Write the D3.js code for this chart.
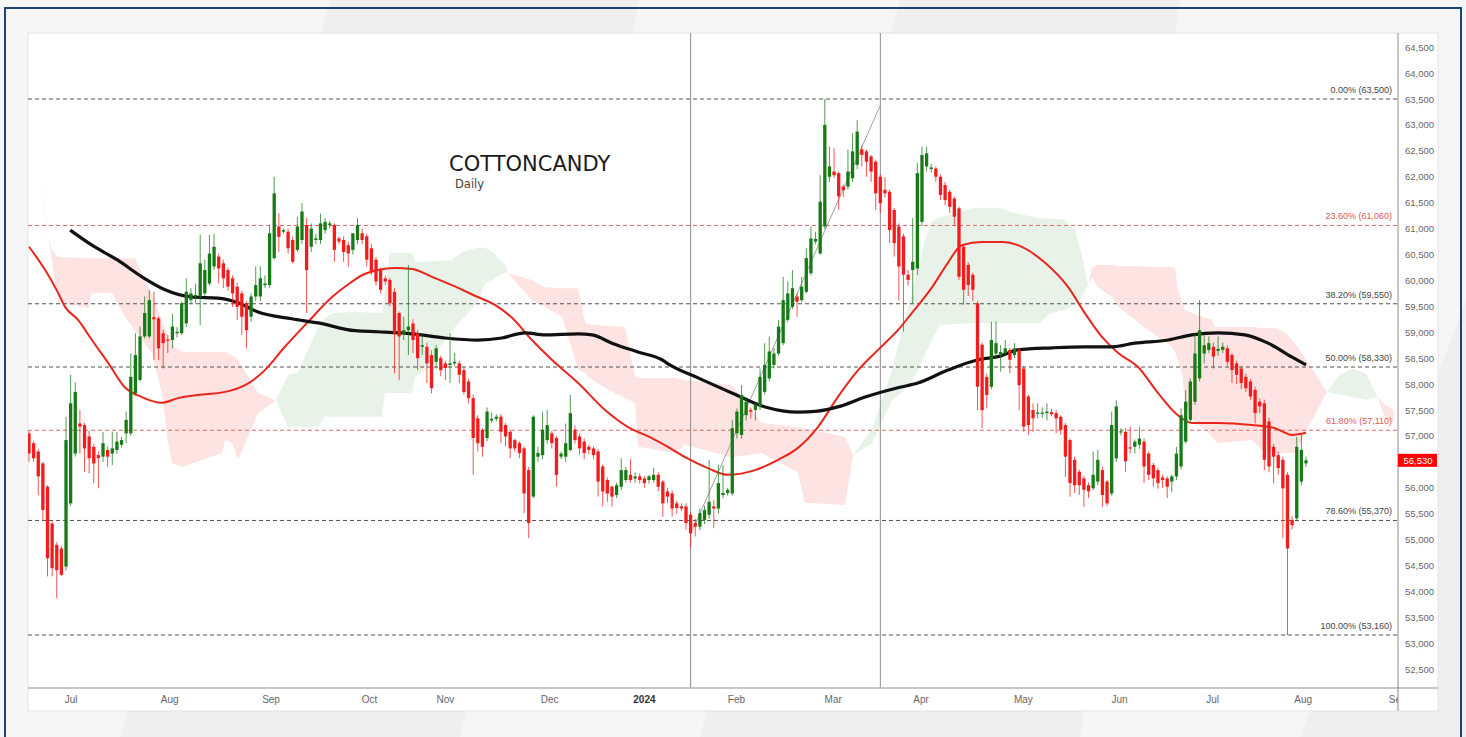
<!DOCTYPE html>
<html><head><meta charset="utf-8">
<script src="https://cdn.jsdelivr.net/npm/d3@7"></script>
<style>html,body{margin:0;padding:0;background:#efefef;overflow:hidden}</style>
</head><body><svg id="c" width="1466" height="737"></svg>
<script>
// ---------------- DATA ----------------
const opens=[57050,56860,56700,56470,56020,55310,54900,54830,54480,55700,
56660,57240,57210,56990,56790,56630,56600,56730,56660,56730,
56830,57050,57050,57820,58080,58920,58920,59290,59270,58980,
58860,58850,58980,58980,59170,59620,59690,59690,59750,59940,
60270,60460,60330,60200,60040,59880,59750,59560,59300,59690,
59690,59910,59910,60430,61040,60940,60940,60780,60590,60780,
61070,60650,60780,60780,60970,61070,61070,60810,60780,60680,
60590,60780,60910,60850,60620,60400,60200,60040,60010,59780,
59370,58950,59040,59170,58980,58720,58720,58560,58430,58500,
58400,58370,58400,58400,58270,58050,57730,57340,57120,56960,
57300,57330,57370,57210,57080,56920,56860,56760,56340,55830,
56600,56630,56920,57050,56960,56600,56600,56730,57120,56990,
56890,56790,56760,56700,56410,56150,56020,55860,56020,56150,
56250,56180,56220,56180,56150,56150,56250,56120,55930,55890,
55700,55640,55640,55480,55320,55250,55380,55480,55640,55600,
55860,55900,55890,57050,57020,57400,57500,57500,57570,57850,
58110,58370,58590,58790,59240,59490,59690,59620,59780,60140,
60750,60520,61040,62000,62100,62070,61810,61810,61970,62230,
62530,62490,62390,62290,62000,61750,61710,61360,61040,60850,
60110,60200,60230,61130,62200,62150,62160,62000,61840,61710,
61580,61390,60650,60300,60110,59560,58760,58140,57950,58590,
58550,58600,58660,58560,58660,58300,57760,57500,57440,57440,
57440,57460,57440,57370,57210,56920,56540,56310,56180,56050,
55990,56120,56340,56120,55890,56570,57080,57080,56780,56790,
56830,56890,56660,56440,56340,56200,56180,56120,56220,56410,
56890,57310,57660,58110,58590,58660,58720,58640,58660,58690,
58560,58400,58300,58140,58050,57890,57660,57630,57280,56790,
56630,56540,56250,55380,55410,56120,56470];
const highs=[57100,56900,56750,56500,56050,55350,54950,54880,57370,58180,
58030,57500,57250,57100,56850,56700,57080,56800,57080,57080,
56980,57470,58590,58980,59110,59690,59810,59780,59300,59050,
58950,59360,59100,59590,60040,59850,59940,60880,60400,60880,
60900,60520,60400,60250,60100,59950,59800,59600,59750,60270,
60270,60100,61070,62000,61300,61000,61000,60850,61230,61490,
61200,61100,60900,61290,61200,61150,61100,60850,60850,60750,
60700,61200,61000,60900,60700,60450,60250,60100,60050,59850,
59400,59300,60300,59250,59050,58950,58800,58650,58750,58550,
58450,58980,58600,58450,58320,58100,57800,57400,57150,57550,
57450,57420,57420,57250,57120,56950,56900,56800,56400,57400,
56790,57470,57500,57100,57000,56700,57240,57790,57200,57050,
56950,56830,56800,56750,56450,56200,56050,56100,56570,56400,
56550,56300,56280,56230,56250,56380,56300,56150,56000,55950,
55750,55700,55700,55520,55400,55600,55650,56540,55770,56440,
56440,56000,57310,57530,57980,57750,57550,57650,58300,58790,
58920,58700,59240,60070,59980,60200,59750,60070,60620,61040,
60940,62030,63500,62580,62550,62100,61850,62520,62840,63090,
62600,62530,62420,62330,62050,61990,61750,61400,61100,60900,
60200,61200,62260,62580,62580,62250,62200,62050,61900,61750,
61620,61420,60700,60350,60150,59600,58800,58200,59200,59210,
58750,58850,58700,58790,58700,58350,57800,57630,57630,57550,
57630,57520,57500,57400,57250,56950,56600,56350,56230,56100,
56700,56730,56400,56150,57470,57690,57150,57150,57180,56930,
57180,56950,56700,56480,56380,56250,56220,56250,56790,57530,
57880,58110,58980,59620,58950,58920,58800,58920,58800,58750,
58600,58450,58350,58200,58100,57950,57720,57700,57350,56850,
56700,56600,56300,55450,56980,57020,56600];
const lows=[56500,56500,55860,55380,54290,54290,53870,54300,54400,55650,
56600,56660,56310,56280,56090,55990,56500,56400,56440,56650,
56780,56860,57000,57780,58050,58880,58880,58460,58460,58300,
58600,58690,58900,58950,59100,59550,59560,59140,59700,59900,
60200,59940,59850,59800,59490,59240,58950,58690,59200,59600,
59600,59850,59850,60400,60550,60900,60520,60330,60550,60700,
59370,60550,60700,60700,60900,61000,60360,60700,60360,60260,
60500,60700,60700,60270,60100,59900,59750,59910,59500,58210,
58080,58850,58560,58600,58270,58560,58020,57820,58300,58150,
58080,58020,58350,58020,57800,57630,56250,56700,56600,56900,
57250,57280,56860,56800,56570,56700,56570,55510,55030,55800,
56500,56550,56850,56760,56020,56550,56500,56700,56850,56640,
56550,56650,56550,55830,55640,55730,55640,55800,55950,56100,
56100,56100,56080,56000,56080,56100,55930,55440,55700,55440,
55500,55550,55190,54830,55060,55180,55300,55400,55220,55500,
55800,55850,55850,56950,56950,57300,57340,57300,57500,57800,
58050,58300,58550,58750,59200,59450,59300,59580,59750,60100,
60700,60500,60990,61900,61980,61360,61610,61750,61900,62150,
62200,62000,61900,61360,61300,61600,60720,60460,59620,59010,
59900,59560,60100,61050,62100,62080,61900,61550,61450,61300,
61050,60010,59530,59700,59600,57500,57150,57530,57900,58500,
58240,58550,58210,58500,57500,57080,57020,57080,57340,57350,
57300,57380,57050,57020,56210,55830,55900,55860,55630,55800,
55950,56050,55630,55650,55850,56500,57010,56310,56660,56660,
56750,56090,56150,56020,55980,56000,55800,55920,56150,56350,
56850,57250,57600,58050,58400,58600,58300,58550,58600,58350,
58020,58000,57900,57850,57700,57240,57440,56340,56300,56090,
56250,55030,53160,55200,55350,56050,56400];
const closes=[56660,56570,56220,55570,54640,54450,54410,54320,56920,57630,
57850,57180,56760,56570,56470,56570,56860,56600,56760,56890,
56920,57310,58140,58560,58920,59370,59620,59250,58690,58790,
58840,59110,59010,59560,59780,59750,59720,60330,60200,60520,
60650,60230,60040,59880,59750,59490,59300,59040,59690,59910,
60040,59940,60910,61680,60840,60970,60620,60360,61040,61330,
60200,61000,60810,61100,61130,61100,60590,60750,60550,60520,
60910,61070,60780,60400,60170,59980,59820,59980,59560,58980,
58920,59040,59110,58850,58500,58750,58400,57920,58690,58270,
58310,58400,58430,58180,57850,57730,56960,56860,56790,57470,
57330,57370,57080,56990,56760,56760,56670,55890,55320,57370,
56670,57120,57210,56860,56250,56660,56860,57440,56920,56760,
56670,56730,56630,56120,55930,55890,55830,56050,56340,56340,
56150,56220,56150,56090,56220,56250,56020,55700,55830,55600,
55610,55600,55320,55120,55250,55510,55570,55730,55600,56090,
55900,55960,57150,57470,57790,57660,57470,57600,58140,58370,
58630,58590,59110,59620,59750,59850,59590,59880,60430,60810,
60800,61520,63000,62200,62030,61620,61740,62100,62490,62870,
62420,62290,62100,61680,61490,61680,60970,60720,60270,60110,
60010,60360,62070,62420,62450,62180,62000,61650,61550,61420,
61230,60070,59820,59910,59820,57950,57500,57790,58850,58790,
58620,58690,58470,58690,57980,57180,57210,57340,57450,57450,
57470,57420,57340,57120,56600,56090,56050,56050,55960,55930,
56250,56540,55860,55700,57210,57570,57090,56510,56760,56890,
56950,56410,56250,56180,56090,56150,56020,56220,56660,57400,
57660,58050,58590,59040,58750,58790,58530,58680,58720,58430,
58270,58180,58020,57920,57760,57440,57570,56540,56410,56600,
56380,55990,54830,55280,56790,56730,56530];

const monthIdx=[9,30.3,52.2,73.5,89.9,112.4,132.9,152.8,173.7,192.7,214.8,235.6,255.7,275.3,295.7];
const monthLbl=["Jul","Aug","Sep","Oct","Nov","Dec","2024","Feb","Mar","Apr","May","Jun","Jul","Aug","Sep"];
const priceTicks=d3.range(52500,64501,500);

const fibLevels=[63500,61060,59550,58330,57110,55370,53160];
const fibPct=["0.00%","23.60%","38.20%","50.00%","61.80%","78.60%","100.00%"];
const fibRed=[false,true,false,false,true,false,false];

const maFast=[[0,60650],[3.5,60200],[6.3,59760],[7.8,59490],[10.6,59240],[13.6,58850],[17.1,58410],[20.7,57940],[24.4,57750],[28.7,57640],[32.2,57730],[36.5,57790],[42.4,57850],[46.7,57980],[51,58270],[55.3,58720],[60.3,59200],[65.5,59680],[69.4,59950],[72,60100],[75.4,60200],[79.1,60240],[82.8,60220],[87.1,60070],[91.4,59910],[97,59680],[100.7,59530],[104.4,59280],[108.7,58850],[113,58470],[118.7,58020],[124.5,57500],[129.5,57170],[134.6,56960],[138.1,56790],[141.8,56590],[146.7,56380],[151.1,56250],[156.9,56340],[161.9,56540],[166.2,56770],[170.5,57170],[174.8,57750],[179.2,58270],[183.5,58660],[187.8,59040],[190.8,59370],[195.2,59870],[198.6,60340],[201.6,60680],[206,60740],[210.3,60740],[213.7,60680],[219.6,60340],[224.6,59870],[228.2,59370],[231.9,58910],[235.4,58600],[239.7,58330],[244,57830],[248.3,57400],[251.4,57250],[257,57250],[264.3,57210],[269.3,57150],[273,57020],[276,57060]];
const maSlow=[[8.9,60970],[13.6,60680],[19.2,60390],[24.4,60070],[29.4,59820],[35.2,59680],[40.8,59660],[45.2,59570],[49.5,59390],[56.8,59260],[62.5,59180],[70.5,59030],[75.4,59010],[82.8,58970],[89.9,58890],[97,58850],[102.2,58890],[107.2,58990],[111.5,58950],[118.7,58970],[121.7,58950],[126,58790],[131.6,58620],[136.8,58470],[138.5,58370],[144.6,58120],[151.9,57830],[159.1,57560],[166.2,57460],[170.5,57480],[174.8,57560],[180.7,57750],[187.8,57930],[192.1,58020],[198.6,58270],[205.1,58470],[209.9,58540],[213.7,58660],[221.1,58700],[228.2,58720],[234.1,58720],[239,58790],[246.2,58850],[251.3,58950],[257,58990],[262.8,58950],[267.8,58790],[273,58520],[276,58370]];

const cloudR1=[[2,62130,62130],[3.5,61260,61320],[4.1,60840,60880],[5,60590,60360],[6.3,60450,59570],[12.8,60430,59470],[13.6,60430,59760],[17.9,60430,59760],[20.7,60430,59300],[22.9,60430,59040],[26.6,59720,58600],[28.7,59240,57830],[30,58950,56920],[30.9,58760,56480],[33.1,58620,56400],[41.7,58620,56670],[42.4,58620,56920],[43.9,58560,56860],[45.2,58470,56540],[49.5,57830,57440],[53.4,57690,57690]];
const cloudG1=[[53.4,57690,57690],[56,58180,57170],[58.1,58220,57170],[62.5,59100,57170],[64,59280,57370],[65.5,59370,57370],[70.5,59390,57370],[76.3,59370,57370],[76.9,59820,57830],[78,60530,57830],[82.8,60530,57830],[83.4,60360,58140],[85.6,60360,58270],[91.4,60390,59040],[93.6,60550,59240],[97,60630,59570],[98.6,60630,59950],[100.1,60550,60010],[102.9,60300,60160],[103.5,60140,60140]];
const cloudR2=[[103.5,60140,60140],[108.7,60010,59620],[111.5,59870,59490],[115.2,59850,59300],[118.7,59850,58270],[120.2,59180,58230],[120.8,59160,58140],[125.1,59120,57890],[128.8,59100,57730],[131,58140,57640],[131.6,58120,56790],[139.6,58120,56670],[141.8,58080,56830],[151.9,57980,56590],[158.4,57250,56670],[166.2,57170,56290],[167.7,57150,55710],[176.4,56980,55670],[178.1,56630,56630]];
const cloudG2=[[178.1,56630,56630],[182.2,57120,56860],[186.5,58270,57690],[190.4,59620,57980],[192.1,60200,58270],[193.6,60780,58560],[195.2,61130,58850],[196.9,61220,59140],[204.5,61400,59180],[209.9,61400,59180],[212,61320,59180],[218.5,61200,59180],[220.7,61190,59370],[223.9,61170,59430],[226.1,60970,59530],[227.8,60390,59720],[228.9,59910,59910]];
const cloudR3=[[228.9,59910,59910],[229.8,60260,60050],[231,60300,59870],[234.1,60300,59680],[235.4,60280,59490],[239,60280,59240],[242.7,60260,58990],[247,60260,58720],[247.7,60240,58620],[248.3,59820,58470],[249.2,59620,58220],[249.8,59430,57640],[251.4,59370,57310],[254.2,59280,57120],[255.7,59240,56980],[256.3,59100,56920],[257,59100,56860],[264.3,59100,56920],[266.5,59080,56730],[269.3,59080,56670],[271.5,58990,56670],[273.6,58790,56670],[275.1,58600,56920],[277.9,58220,57400],[280.5,57850,57850]];
const cloudG3=[[280.5,57850,57850],[283,58150,57800],[286,58300,57750],[289,58200,57700],[291.5,57750,57750]];
const cloudR4=[[291.5,57750,57750],[293,57600,57350],[295,57500,57250]];
const clouds=[[cloudR1,"r"],[cloudG1,"g"],[cloudR2,"r"],[cloudG2,"g"],[cloudR3,"r"],[cloudG3,"g"],[cloudR4,"r"]];

const vLineIdx=[143,184];
const trendPts=[[143.5,55200],[184,63380]];
const lastPrice=56530;
const titleText="COTTONCANDY", subText="Daily";

// ---------------- DRAW ----------------
const svg=d3.select("#c");
const W=1466,H=737;
const L=28,R=1398,T=33,B=688;
const x=d3.scaleLinear().domain([0,276]).range([29,1306]);
const y=d3.scaleLinear().domain([53160,63500]).range([635,99]);

svg.append("rect").attr("width",W).attr("height",H).attr("fill","#efefef");
const deco=[[[0,0],[330,0],[120,737],[0,737]],[[640,0],[900,0],[700,737],[460,737]],[[1180,0],[1466,0],[1466,300],[1300,737],[1080,737]]];
deco.forEach(p=>svg.append("polygon").attr("points",p.map(d=>d.join(",")).join(" ")).attr("fill","#f6f6f6"));
svg.append("rect").attr("x",5).attr("y",8).attr("width",1456).attr("height",740).attr("fill","none").attr("stroke","#1d4373").attr("stroke-width",2);
svg.append("rect").attr("x",L).attr("y",T).attr("width",1410).attr("height",678).attr("fill","#fff").attr("stroke","#e4e4e4");

const defs=svg.append("defs");
defs.append("clipPath").attr("id","pc").append("rect").attr("x",L).attr("y",T).attr("width",R-L).attr("height",B-T);
defs.append("clipPath").attr("id","xc").append("rect").attr("x",L).attr("y",B).attr("width",R-L).attr("height",30);

const g=svg.append("g").attr("clip-path","url(#pc)");

// clouds
const area=d3.area().x(d=>x(d[0])).y0(d=>y(d[2])).y1(d=>y(d[1]));
clouds.forEach(([pts,c])=>{
  g.append("path").attr("d",area(pts)).attr("fill",c==="r"?"#fde4e2":"#e8f2e9");
});

// fib lines
fibLevels.forEach((v,i)=>{
  g.append("line").attr("x1",L).attr("x2",R).attr("y1",y(v)).attr("y2",y(v))
   .attr("stroke",fibRed[i]?"#e06a6a":"#505050").attr("stroke-width",1).attr("stroke-dasharray","4,3");
  g.append("text").attr("x",1392).attr("y",y(v)-6).attr("text-anchor","end")
   .attr("font-family","Liberation Sans, Arial, sans-serif").attr("font-size",9)
   .attr("fill",fibRed[i]?"#e05555":"#444").text(`${fibPct[i]} (${d3.format(",")(v)})`);
});

// vertical lines and trend line
vLineIdx.forEach(i=>g.append("line").attr("x1",x(i)).attr("x2",x(i)).attr("y1",T).attr("y2",B).attr("stroke","#8c8c8c").attr("stroke-width",1));
g.append("line").attr("x1",x(trendPts[0][0])).attr("y1",y(trendPts[0][1])).attr("x2",x(trendPts[1][0])).attr("y2",y(trendPts[1][1])).attr("stroke","#a0a0a0").attr("stroke-width",1);

// moving averages
const line=d3.line().x(d=>x(d[0])).y(d=>y(d[1])).curve(d3.curveMonotoneX);
g.append("path").attr("d",line(maFast)).attr("fill","none").attr("stroke","#e8261e").attr("stroke-width",2);
g.append("path").attr("d",line(maSlow)).attr("fill","none").attr("stroke","#111").attr("stroke-width",3.2);

// candles
const bw=3.3;
closes.forEach((c,i)=>{
  const o=opens[i],h=highs[i],l=lows[i];
  const up=c>=o, col=up?"#177a17":"#f31b1b";
  g.append("line").attr("x1",x(i)).attr("x2",x(i)).attr("y1",y(h)).attr("y2",y(l)).attr("stroke",col).attr("stroke-width",1).attr("stroke-opacity",0.75);
  const yt=y(Math.max(o,c)), yb=y(Math.min(o,c));
  g.append("rect").attr("x",x(i)-bw/2).attr("y",yt).attr("width",bw).attr("height",Math.max(1.2,yb-yt)).attr("fill",col);
});

// title
svg.append("text").attr("x",449).attr("y",171).attr("font-family","DejaVu Sans, sans-serif").attr("font-size",21).attr("fill","#1a1a1a").text(titleText);
svg.append("text").attr("x",455).attr("y",188).attr("font-family","DejaVu Sans, sans-serif").attr("font-size",11.5).attr("fill","#444").text(subText);

// axes lines
svg.append("line").attr("x1",L).attr("x2",1438).attr("y1",B).attr("y2",B).attr("stroke","#b4b4b4").attr("stroke-width",1.5);
svg.append("line").attr("x1",R).attr("x2",R).attr("y1",T).attr("y2",711).attr("stroke","#8c8c8c").attr("stroke-width",1);

// right axis
const ya=svg.append("g").attr("transform",`translate(${R},0)`)
  .call(d3.axisRight(y).tickValues(priceTicks).tickFormat(d3.format(",")).tickSize(0).tickPadding(7));
ya.select(".domain").remove();
ya.selectAll("text").attr("font-family","Liberation Sans, Arial, sans-serif").attr("font-size",9.5).attr("fill","#666");

// last price box
svg.append("rect").attr("x",R).attr("y",y(lastPrice)-6.5).attr("width",39).attr("height",13).attr("fill","#ff0000");
svg.append("text").attr("x",R+20).attr("y",y(lastPrice)+3.5).attr("text-anchor","middle").attr("font-family","Liberation Sans, Arial, sans-serif").attr("font-size",9.5).attr("fill","#fff").text(d3.format(",")(lastPrice));

// bottom axis
const xa=svg.append("g").attr("clip-path","url(#xc)").append("g").attr("transform",`translate(0,${B})`)
  .call(d3.axisBottom(x).tickValues(monthIdx).tickFormat((d,i)=>monthLbl[i]).tickSize(0).tickPadding(8));
xa.select(".domain").remove();
xa.selectAll("text").attr("font-family","Liberation Sans, Arial, sans-serif").attr("font-size",10)
  .attr("fill",(d,i)=>monthLbl[i]==="2024"?"#333":"#666").attr("font-weight",(d,i)=>monthLbl[i]==="2024"?"bold":"normal");
</script></body></html>
